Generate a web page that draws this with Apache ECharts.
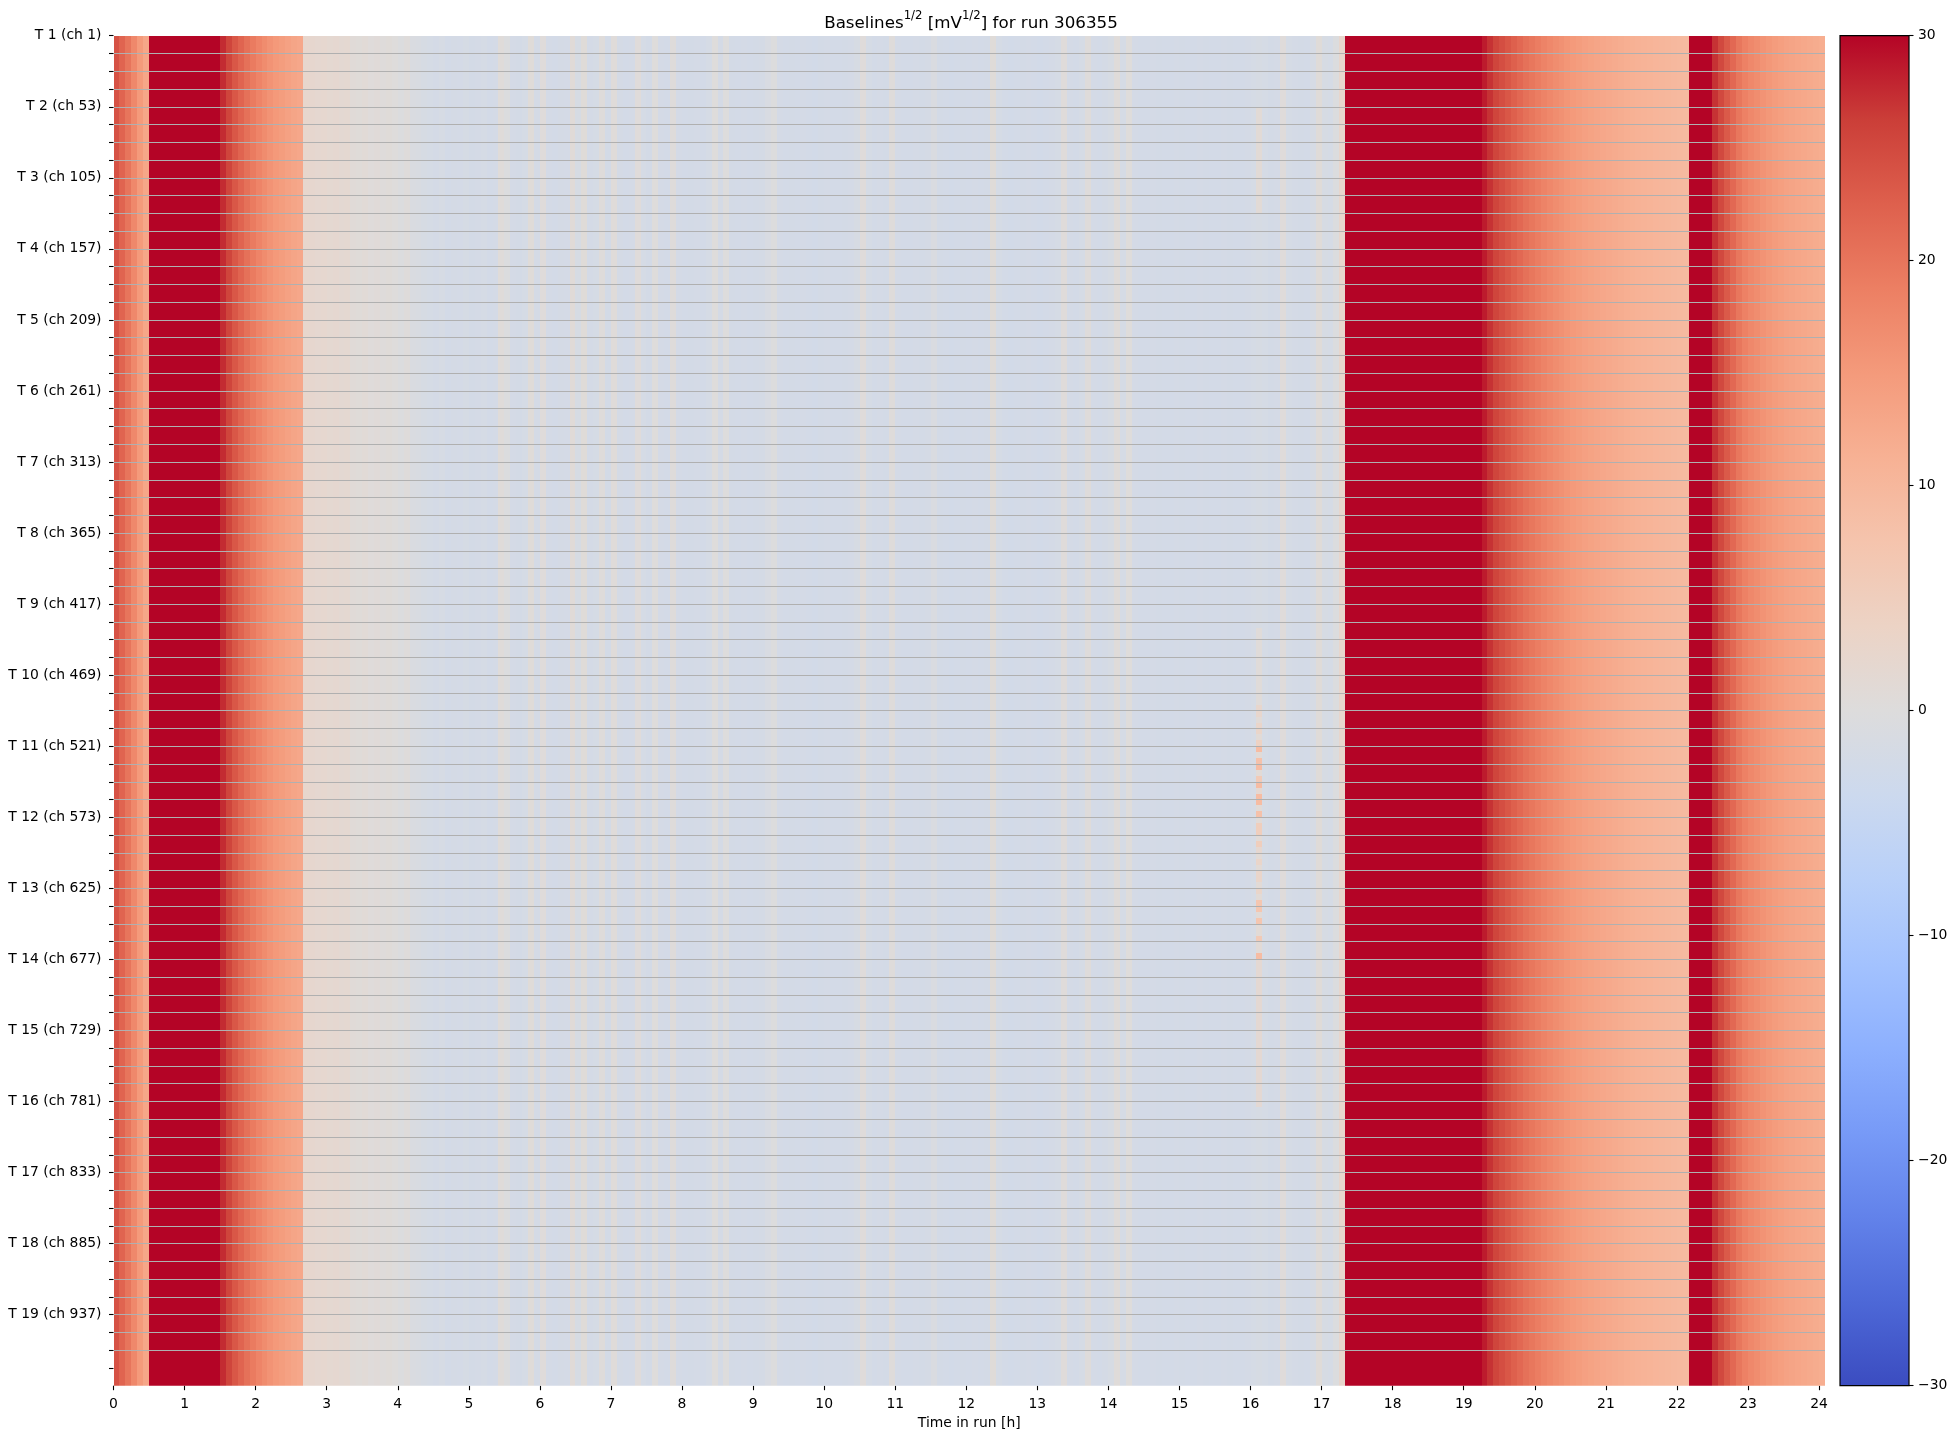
<!DOCTYPE html>
<html>
<head>
<meta charset="utf-8">
<script src="https://cdn.jsdelivr.net/npm/echarts@6/dist/echarts.min.js"></script>
<style>
html,body{margin:0;padding:0;background:#ffffff;}
#chart{width:1956px;height:1439px;}
</style>
</head>
<body>
<div id="chart"></div>
<script>
// ---------------- DATA ----------------
// Time bins: 5-minute bins (1/12 h), 289 bins covering 0 .. 24.083 h
// Baseline^(1/2) profile along time (values in mV^(1/2)); saturated red is stored as 30
const edgeStart = [24, 22, 20, 17.5, 15, 13];                                 // 0.00 - 0.50 h
const redBlock1 = [30, 30, 30, 30, 30, 30, 30, 30, 30, 30, 30, 30];           // 0.50 - 1.50 h
const decay1 = [27.5, 25.5, 23.5, 22, 20.5, 19.2, 18, 17, 16, 15.2, 14.5, 13.8, 13.2, 12.8]; // 1.50 - 2.67 h
const warmPlateau = [2.5, 2.3, 2.0, 2.2, 1.8, 2.0, 1.6, 1.8, 0.8, 0.6, 0.9, 0.4, 0.7, 0.3, 0.6, 0.2, -0.5, 0.3, -0.8, -1.0, -1.5]; // 2.67 - 4.42 h
const quietPeriod = [
  -1.8, -2.0, -1.6, -2.2, -1.9, -2.0, -1.7, -2.1, -2.0, -1.8,
  -2.2, -2.0, 0.5, -0.5, -2.0, -2.1, -1.8, 0.6, -1.9, 0.4,
  -2.0, -2.2, -1.9, -2.0, 0.8, -1.5, 0.6, -2.0, -1.8, 0.3,
  -2.1, 0.5, -1.9, -2.2, -2.0, 0.4, -1.8, -2.1, 0.2, -2.0,
  -2.2, 0.3, -2.0, -2.3, -2.1, -2.0, -2.2, -1.8, 0.2, -1.9,
  0.0, -2.1, -2.3, -2.0, -2.2, -2.1, -1.9, -1.2, -0.2, -2.0,
  -2.2, -2.1, -2.3, -2.0, -2.2, -2.4, -2.1, -2.0, -2.2, -2.3,
  -2.1, -2.0, -1.5, 0.4, -1.8, -2.2, -2.0, -2.1, 0.3, -2.0,
  -2.3, -2.2, -2.0, -2.1, -1.9, -0.8, -2.1, -2.2, -2.4, -2.3,
  -2.1, -2.2, -2.0, -2.3, -2.1, 0.6, -1.8, -2.2, -2.4, -2.3,
  -2.1, -2.0, -2.2, -2.4, -2.2, -2.0, -1.8, 0.4, -2.0, -2.2,
  -1.8, 0.3, -2.0, -2.2, -1.9, -1.5, 0.5, -1.8, 0.2, -2.0,
  -2.3, -2.2, -2.0, -2.1, -2.3, -2.2, -2.0, -2.1, -2.3, -2.2,
  -2.0, -2.1, -2.3, -2.2, -2.0, -2.1, -2.2, -2.3, -2.0, -1.8,
  -1.5, -1.8, -2.1, -2.0, 0.4, -1.8, -2.0, -2.1, -2.2, -1.6,
  0.6, -1.5, -1.8, -0.5, 2.5
];                                                                              // 4.42 - 17.33 h
const redBlock2 = [30, 30, 30, 30, 30, 30, 30, 30, 30, 30, 30, 30, 30, 30, 30, 30, 30, 30, 30, 30, 30, 30, 30]; // 17.33 - 19.25 h
const decay2 = [28.5, 27, 25.5, 24.5, 23.5, 22.5, 21.5, 20.5, 19.7, 19, 18.2, 17.5, 16.8, 16.2, 15.6, 15, 14.5, 14, 13.6, 13.2,
                12.8, 12.5, 12.2, 11.9, 11.6, 11.3, 11, 10.8, 10.6, 10.4, 10.2, 10, 9.8, 9.6, 9.5];  // 19.25 - 22.17 h
const redBlock3 = [30, 30, 30, 30];                                             // 22.17 - 22.50 h
const decay3 = [27, 25, 23.2, 21.5, 19.7, 18.5, 17.5, 16.8, 16, 15.3, 14.7, 14.2, 13.7, 13.3, 13, 12.7, 12.4, 12.1, 11.8]; // 22.50 - 24.08 h

// Localised warm spots in one time bin (~16.1 h), per channel row
const hotspotBin = 193;
const hotspotRows = [12,13,14,15,16,17,18,19,20,21,22,23,24,25,26,27,28,29,
  100,101,102,103,104,105,106,107,108,109,110,111,112,
  113,114,115,116,117,118,119,120,121,122,123,124,125,126,127,128,129,130,131,132,133,134,135,136,137,138,
  139,140,141,142,143,144,145,146,147,148,149,150,151,152,153,154,155,
  156,157,158,159,160,161,162,163,164,165,166,167,168,169,170,171,172,173,174,175,176,177,178,179,180];
const hotspotValues = [1,1,1,1,1,1,1,1,1,1,1,1,1,1,1,1,1,1,
  0.5,0.5,0.5,0.5,0.5,0.5,0.5,0.5,0.5,0.5,0.5,0.5,0.5,
  2.5,2.5,1,3,3,1,4,9,1,8,9,1,6,9,2,9,9,1,8,1,5,5,1,5,2,1,
  3,1,3,3,1,3,1,7,7,1,7,1,1,6,1,1,9,
  1.5,1.5,1.5,1.5,1.5,1.5,1.5,1.5,1.5,1.5,1.5,1.5,1.5,1.5,1.5,1.5,1.5,1.5,1.5,1.5,1.5,1.5,1.5,1.5,1.5];

// Axis ticks / labels
const xTickHours = [0,1,2,3,4,5,6,7,8,9,10,11,12,13,14,15,16,17,18,19,20,21,22,23,24];
const yTickChannels = [0,13,26,39,52,65,78,91,104,117,130,143,156,169,182,195,208,221,234,247,260,273,286,299,312,325,338,351,
  364,377,390,403,416,429,442,455,468,481,494,507,520,533,546,559,572,585,598,611,624,637,650,663,676,689,702,715,728,741,
  754,767,780,793,806,819,832,845,858,871,884,897,910,923,936,949,962,975];
const yLabelChannels = [0,52,104,156,208,260,312,364,416,468,520,572,624,676,728,780,832,884,936];
const colorbarTicks = [-30,-20,-10,0,10,20,30];
const runNumber = '306355';
const nChannels = 988;
const nRows = 228;          // channel rows drawn (4.33 channels each)
const binHours = 1 / 12;

// coolwarm colormap samples (-30 .. 30)
const coolwarm = ['#3b4cc0','#4d68d7','#6282ea','#779af7','#8db0fe','#a3c2fe','#b8d0f9','#ccd9ee','#dddcdc',
                  '#ecd3c5','#f5c4ad','#f7b194','#f49a7b','#ec7f63','#de604d','#cb3e38','#b40426'];

// ---------------- BUILD ----------------
const timeProfile = [].concat(edgeStart, redBlock1, decay1, warmPlateau, quietPeriod, redBlock2, decay2, redBlock3, decay3);
const nBins = timeProfile.length;
const rowChannels = nChannels / nRows;
const hotspotMap = {};
hotspotRows.forEach((r, i) => { hotspotMap[r] = hotspotValues[i]; });
function cellValue(c, r) {
  if (c === hotspotBin && hotspotMap[r] !== undefined) return hotspotMap[r];
  return timeProfile[c];
}
// cells of one time bin with equal value in consecutive rows are drawn as one block: [bin, rowStart, rowEnd, value]
const cellBlocks = [];
for (let c = 0; c < nBins; c++) {
  let r0 = 0;
  for (let r = 1; r <= nRows; r++) {
    if (r === nRows || cellValue(c, r) !== cellValue(c, r0)) {
      cellBlocks.push([c, r0, r - 1, cellValue(c, r0)]);
      r0 = r;
    }
  }
}

const FONT = 'DejaVu Sans';
const TICK_FS = 13.9;
const gridLeft = 113.5, gridTop = 35.7, gridW = 1711.5, gridH = 1350;
const cbLeft = 1840, cbW = 69;

const gradStops = coolwarm.slice().reverse().map((c, i, a) => ({ offset: i / (a.length - 1), color: c }));

const chart = echarts.init(document.getElementById('chart'), null, { renderer: 'canvas' });
chart.setOption({
  animation: false,
  backgroundColor: '#ffffff',
  title: {
    text: '{a|Baselines}{s|1/2}{a| [mV}{s|1/2}{a|] for run ' + runNumber + '}',
    left: 966,
    top: 5,
    textAlign: 'center',
    textStyle: {
      fontFamily: FONT,
      fontWeight: 'normal',
      rich: {
        a: { fontFamily: FONT, fontSize: 16.7, fontWeight: 'normal', color: '#000', lineHeight: 22, verticalAlign: 'bottom' },
        s: { fontFamily: FONT, fontSize: 11.7, fontWeight: 'normal', color: '#000', lineHeight: 14, verticalAlign: 'top' }
      }
    }
  },
  grid: [
    { left: gridLeft, top: gridTop, width: gridW, height: gridH, containLabel: false, outerBoundsMode: 'none' },
    { left: cbLeft, top: gridTop, width: cbW, height: gridH, containLabel: false, outerBoundsMode: 'none' }
  ],
  visualMap: {
    type: 'continuous',
    show: false,
    min: -30,
    max: 30,
    dimension: 3,
    seriesIndex: 0,
    inRange: { color: coolwarm }
  },
  xAxis: [
    {
      type: 'value', gridIndex: 0, position: 'bottom', min: 0, max: nBins * binHours, interval: 1,
      axisLine: { show: false, onZero: false },
      axisTick: { show: true, length: 4.5, lineStyle: { color: '#000', width: 1.1 }, customValues: xTickHours },
      axisLabel: { show: true, margin: 12, color: '#000', fontFamily: FONT, fontSize: TICK_FS, customValues: xTickHours,
        formatter: v => String(v) },
      splitLine: { show: false },
      name: 'Time in run [h]', nameLocation: 'middle', nameGap: 29,
      nameTextStyle: { color: '#000', fontFamily: FONT, fontSize: TICK_FS }
    },
    { type: 'category', gridIndex: 1, data: [''], show: false }
  ],
  yAxis: [
    {
      type: 'value', gridIndex: 0, position: 'left', min: 0, max: nChannels, interval: 13, inverse: true, z: 5,
      axisLine: { show: false, onZero: false },
      axisTick: { show: true, length: 4.5, lineStyle: { color: '#000', width: 1.1 }, customValues: yTickChannels },
      axisLabel: { show: true, margin: 12, color: '#000', fontFamily: FONT, fontSize: TICK_FS, customValues: yLabelChannels,
        padding: [4, 0, 0, 0],
        formatter: v => (v % 52 === 0 ? 'T ' + (v / 52 + 1) + ' (ch ' + (v + 1) + ')' : '') },
      splitLine: { show: true, showMinLine: false, showMaxLine: false, lineStyle: { color: '#b0b0b0', width: 1.1 } }
    },
    {
      type: 'value', gridIndex: 1, position: 'right', min: -30, max: 30, interval: 10,
      axisLine: { show: false, onZero: false },
      axisTick: { show: true, length: 4.5, lineStyle: { color: '#000', width: 1.1 }, customValues: colorbarTicks },
      axisLabel: { show: true, margin: 9, color: '#000', fontFamily: FONT, fontSize: TICK_FS, customValues: colorbarTicks,
        padding: [4, 0, 0, 0],
        formatter: v => (v < 0 ? '\u2212' + (-v) : String(v)) },
      splitLine: { show: false }
    }
  ],
  graphic: [
    {
      type: 'rect', z: 1,
      shape: { x: cbLeft, y: gridTop, width: cbW, height: gridH },
      style: { fill: new echarts.graphic.LinearGradient(0, 0, 0, 1, gradStops), stroke: '#000', lineWidth: 1.2 }
    }
  ],
  series: [
    {
      type: 'custom',
      xAxisIndex: 0,
      yAxisIndex: 0,
      data: cellBlocks,
      clip: true,
      silent: true,
      renderItem: function (params, api) {
        const c = api.value(0), r0 = api.value(1), r1 = api.value(2);
        const p0 = api.coord([c * binHours, r0 * rowChannels]);
        const p1 = api.coord([(c + 1) * binHours, (r1 + 1) * rowChannels]);
        const x0 = Math.round(Math.min(p0[0], p1[0])), x1 = Math.round(Math.max(p0[0], p1[0]));
        const y0 = Math.round(Math.min(p0[1], p1[1])), y1 = Math.round(Math.max(p0[1], p1[1]));
        return {
          type: 'rect',
          shape: { x: x0, y: y0, width: x1 - x0, height: y1 - y0 },
          style: { fill: api.visual('color'), stroke: null, lineWidth: 0 }
        };
      }
    }
  ]
});
</script>
</body>
</html>
